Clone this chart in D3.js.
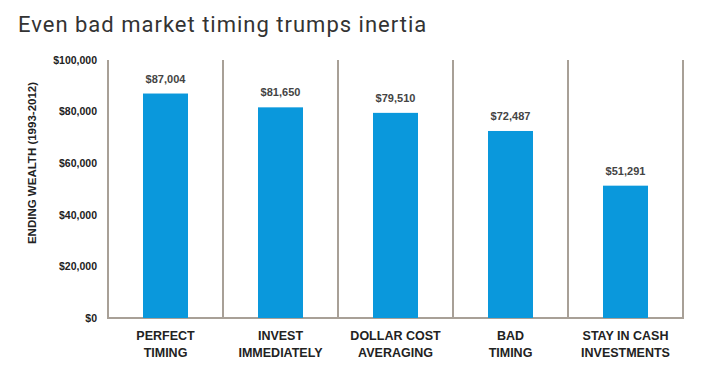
<!DOCTYPE html>
<html>
<head>
<meta charset="utf-8">
<script src="https://cdn.jsdelivr.net/npm/d3@7"></script>
<style>
  body { margin: 0; background: #fff; }
  svg { display: block; }
</style>
</head>
<body>
<div id="app"></div>
<script>
const categories = ["PERFECT TIMING", "INVEST IMMEDIATELY", "DOLLAR COST AVERAGING", "BAD TIMING", "STAY IN CASH INVESTMENTS"];
const labelLines = [["PERFECT", "TIMING"], ["INVEST", "IMMEDIATELY"], ["DOLLAR COST", "AVERAGING"], ["BAD", "TIMING"], ["STAY IN CASH", "INVESTMENTS"]];
const values = [87004, 81650, 79510, 72487, 51291];
const yTicks = [0, 20000, 40000, 60000, 80000, 100000];

const width = 720;
const height = 377;
const margin = { top: 60, right: 37, bottom: 59, left: 108 };

const svg = d3.select('#app')
  .append('svg')
  .attr('width', width)
  .attr('height', height);

// title
svg.append('text')
  .attr('x', 18)
  .attr('y', 32)
  .attr('font-family', 'Roboto, sans-serif')
  .attr('font-size', 22)
  .attr('letter-spacing', 1)
  .attr('fill', '#333')
  .text('Even bad market timing trumps inertia');

const xScale = d3.scaleBand()
  .domain(categories)
  .range([margin.left, width - margin.right])
  .paddingInner(0)
  .paddingOuter(0);

const yScale = d3.scaleLinear()
  .domain([0, 100000])
  .range([height - margin.bottom, margin.top]);

const barW = 45;
const lineColor = '#a8a097';

// vertical separators (band edges)
const edges = categories.map(c => xScale(c)).concat([xScale.range()[1]]);
svg.append('g')
  .selectAll('line')
  .data(edges)
  .join('line')
  .attr('x1', d => d)
  .attr('x2', d => d)
  .attr('y1', yScale(100000))
  .attr('y2', yScale(0))
  .attr('stroke', lineColor)
  .attr('stroke-width', 2);

// baseline
svg.append('line')
  .attr('x1', xScale.range()[0] - 1)
  .attr('x2', xScale.range()[1] + 1)
  .attr('y1', yScale(0))
  .attr('y2', yScale(0))
  .attr('stroke', lineColor)
  .attr('stroke-width', 2);

// y axis labels
const yAxis = svg.append('g')
  .attr('transform', `translate(${margin.left}, 0)`)
  .call(d3.axisLeft(yScale)
    .tickValues(yTicks)
    .tickSize(0)
    .tickPadding(11)
    .tickFormat(d => '$' + d3.format(',')(d)));
yAxis.select('.domain').remove();
yAxis.selectAll('text')
  .attr('font-family', 'Liberation Sans, Arial, sans-serif')
  .attr('font-weight', 'bold')
  .attr('font-size', 10.5)
  .attr('fill', '#222');

// y axis title
svg.append('text')
  .attr('transform', 'translate(36, 163) rotate(-90)')
  .attr('text-anchor', 'middle')
  .attr('font-family', 'Liberation Sans, Arial, sans-serif')
  .attr('font-weight', 'bold')
  .attr('font-size', 11.5)
  .attr('fill', '#222')
  .text('ENDING WEALTH (1993-2012)');

// bars
svg.append('g')
  .selectAll('rect')
  .data(values)
  .join('rect')
  .attr('x', (d, i) => xScale(categories[i]) + (xScale.bandwidth() - barW) / 2)
  .attr('y', d => yScale(d))
  .attr('width', barW)
  .attr('height', d => yScale(0) - yScale(d))
  .attr('fill', '#0a98dc');

// value labels
svg.append('g')
  .selectAll('text')
  .data(values)
  .join('text')
  .attr('x', (d, i) => xScale(categories[i]) + xScale.bandwidth() / 2)
  .attr('y', d => yScale(d) - 11)
  .attr('text-anchor', 'middle')
  .attr('font-family', 'Liberation Sans, Arial, sans-serif')
  .attr('font-weight', 'bold')
  .attr('font-size', 11)
  .attr('fill', '#444')
  .text(d => '$' + d3.format(',')(d));

// category labels
const catG = svg.append('g')
  .selectAll('text')
  .data(labelLines)
  .join('text')
  .attr('text-anchor', 'middle')
  .attr('font-family', 'Liberation Sans, Arial, sans-serif')
  .attr('font-weight', 'bold')
  .attr('font-size', 12.5)
  .attr('fill', '#222');
catG.selectAll('tspan')
  .data((d, i) => d.map(t => ({ t, i })))
  .join('tspan')
  .attr('x', d => xScale(categories[d.i]) + xScale.bandwidth() / 2)
  .attr('y', (d, j) => 340 + j * 17)
  .text(d => d.t);
</script>
</body>
</html>
